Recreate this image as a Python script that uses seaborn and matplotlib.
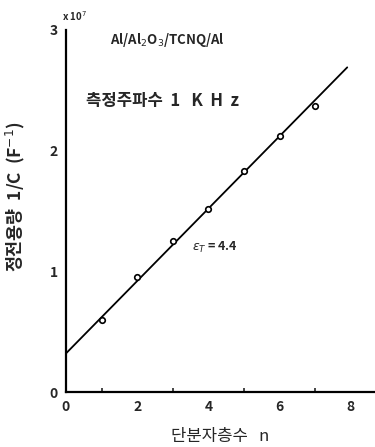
import numpy as np
import pandas as pd
import matplotlib
matplotlib.use('Agg')
import matplotlib.pyplot as plt
import seaborn as sns
from matplotlib.ticker import MultipleLocator

# measured points (units of 1e7 F^-1)
layers = [1, 2, 3, 4, 5, 6, 7]
inv_cap = [0.60, 0.95, 1.25, 1.52, 1.83, 2.12, 2.37]

# fitted straight line end points
fit_n = [0.0, 7.9]
fit_y = [0.32, 2.69]

sns.set_theme(style='white')
plt.rcParams['font.family'] = ['Noto Sans CJK KR', 'DejaVu Sans']

df = pd.DataFrame({'n': layers, 'invC': inv_cap})
fit = pd.DataFrame({'n': fit_n, 'invC': fit_y})

fig = plt.figure(figsize=(3.75, 4.47), dpi=100)
ax = fig.add_axes([0.176, 0.123, 0.824, 0.81])

sns.lineplot(data=fit, x='n', y='invC', color='black', lw=1.3, ax=ax)
sns.scatterplot(data=df, x='n', y='invC', marker='o', s=16, facecolor='white',
                edgecolor='black', linewidth=1.2, ax=ax, zorder=3)

ax.set_xlim(0, 8.68)
ax.set_ylim(0, 3)
ax.xaxis.set_major_locator(MultipleLocator(2))
ax.xaxis.set_minor_locator(MultipleLocator(1))
ax.yaxis.set_major_locator(MultipleLocator(1))
ax.tick_params(axis='both', which='major', direction='in', length=6, width=1.3,
               labelsize=10, pad=6)
ax.tick_params(axis='x', which='minor', direction='in', length=3, width=1.2, bottom=True)
for lab in ax.get_xticklabels() + ax.get_yticklabels():
    lab.set_fontweight('bold')

for side in ['top', 'right']:
    ax.spines[side].set_visible(False)
for side in ['left', 'bottom']:
    ax.spines[side].set_linewidth(1.6)
    ax.spines[side].set_color('black')

ax.set_xlabel('단분자층수   n', fontsize=12, labelpad=10)
ax.set_ylabel('정전용량  1/C  (F$^{-1}$)', fontsize=12.5, fontweight='bold')
ax.yaxis.set_label_coords(-0.125, 0.54)

ax.text(-0.012, 1.025, 'x 10$^7$', transform=ax.transAxes, fontsize=7, fontweight='bold')
ax.text(1.25, 2.88, 'Al/Al$_2$O$_3$/TCNQ/Al', fontsize=9.5, fontweight='bold')
ax.text(0.55, 2.37, '측정주파수  1   K  H  z', fontsize=12, fontweight='bold')
ax.text(3.55, 1.17, '$\\epsilon_T$ = 4.4', fontsize=9, fontweight='bold')

fig.savefig('out.png', dpi=100)
